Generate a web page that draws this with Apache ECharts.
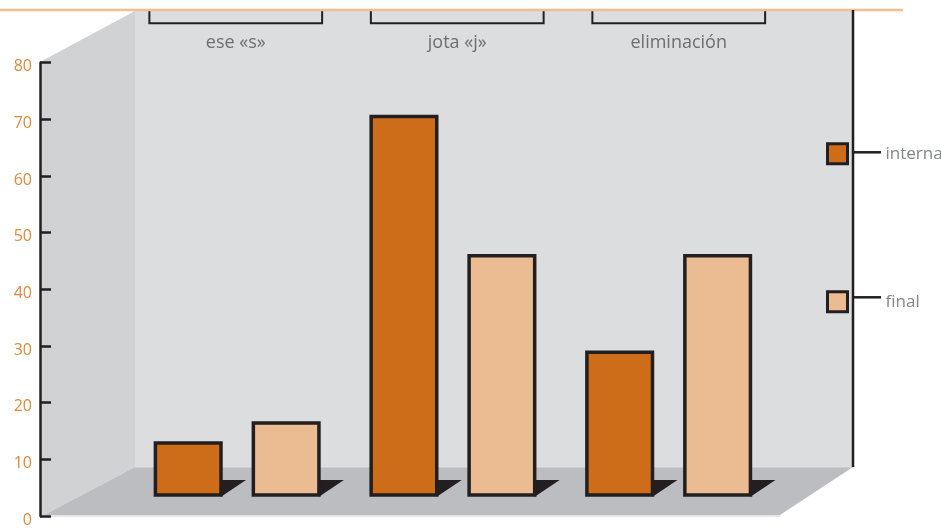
<!DOCTYPE html>
<html>
<head>
<meta charset="utf-8">
<script src="https://cdn.jsdelivr.net/npm/echarts@6/dist/echarts.min.js"></script>
<style>
html,body{margin:0;padding:0;background:#ffffff;}
#chart{width:941px;height:528px;}
</style>
</head>
<body>
<div id="chart"></div>
<script>
// ---- data ----
var categories = ['ese «s»', 'jota «j»', 'eliminación'];
var seriesNames = ['interna', 'final'];
var internaValues = [13, 70.5, 29];
var finalValues = [16.5, 46, 46];
var yTicks = [0, 10, 20, 30, 40, 50, 60, 70, 80];

// ---- style ----
var C_INTERNA = '#cd6d1a';
var C_FINAL = '#ebbb91';
var C_DARK = '#231f20';
var DEPTH = 21.7;      // 3D depth offset of the bar floor (px)

var chart = echarts.init(document.getElementById('chart'), null, {renderer: 'canvas'});

function barRenderer(sign, color) {
  return function (params, api) {
    var i = api.value(0), v = api.value(1);
    var top = api.coord([i, v]);
    var base = api.coord([i, 0]);
    var band = api.size([1, 0])[0];
    var cx = top[0] + sign * band * 0.227;
    var w = band * 0.304;
    var y0 = base[1] - DEPTH;
    var y1 = top[1];
    var xr = cx + w / 2;
    return {
      type: 'group',
      children: [
        {type: 'polygon', shape: {points: [[xr, y0 - 15], [xr + 25, y0 - 15], [xr, y0 + 1.75]]},
         style: {fill: C_DARK}},
        {type: 'rect', shape: {x: cx - w / 2, y: y1, width: w, height: y0 - y1},
         style: {fill: color, stroke: C_DARK, lineWidth: 3.5}}
      ]
    };
  };
}

function bracketRenderer(params, api) {
  var i = api.value(0);
  var b = api.coord([i, 0]);
  var t = api.coord([i, 1]);
  var band = api.size([1, 0])[0];
  var h = band * 0.39;
  return {
    type: 'polyline',
    shape: {points: [[b[0] - h, t[1]], [b[0] - h, b[1]], [b[0] + h, b[1]], [b[0] + h, t[1]]]},
    style: {stroke: C_DARK, lineWidth: 2, fill: null}
  };
}

var option = {
  backgroundColor: '#ffffff',
  animation: false,
  textStyle: {fontFamily: 'Open Sans'},
  grid: [
    {left: 40, top: 62.7, width: 813, height: 454},
    {left: 129.3, top: 62.7, width: 647.25, height: 454},
    {left: 125, top: 10, width: 664.5, height: 13.3}
  ],
  xAxis: [
    {gridIndex: 0, type: 'value', show: false},
    {gridIndex: 1, type: 'category', data: categories, show: false},
    {gridIndex: 2, type: 'category', data: categories, position: 'bottom',
     axisLine: {show: false}, axisTick: {show: false},
     axisLabel: {show: true, color: '#6d6e71', fontSize: 18, margin: 11, fontFamily: 'Open Sans'}}
  ],
  yAxis: [
    {gridIndex: 0, type: 'value', min: yTicks[0], max: yTicks[yTicks.length - 1], interval: 10, z: 5,
     axisLine: {show: true, lineStyle: {color: C_DARK, width: 2.5}},
     axisTick: {show: true, inside: true, length: 11, lineStyle: {color: C_DARK, width: 2.5}},
     splitLine: {show: false},
     axisLabel: {color: '#dc8a3c', fontSize: 16, margin: 8, verticalAlign: 'top', lineHeight: 8,
                 fontFamily: 'Open Sans'}},
    {gridIndex: 1, type: 'value', min: 0, max: 80, show: false},
    {gridIndex: 2, type: 'value', min: 0, max: 1, show: false}
  ],
  legend: {
    data: seriesNames,
    orient: 'vertical',
    left: 826, top: 142.3, padding: 0,
    itemWidth: 20, itemHeight: 20, itemGap: 125,
    icon: 'rect',
    itemStyle: {borderColor: C_DARK, borderWidth: 3},
    textStyle: {color: '#85878a', fontSize: 17, fontFamily: 'Open Sans', padding: [0, 0, 0, 33]},
    selectedMode: false
  },
  graphic: [
    {type: 'rect', z: -10, shape: {x: 135, y: 10, width: 718, height: 457}, style: {fill: '#dcdddf'}},
    {type: 'polygon', z: -10, shape: {points: [[40, 62], [135, 11], [135, 467], [40, 517]]}, style: {fill: '#d1d2d4'}},
    {type: 'polygon', z: -9, shape: {points: [[40, 517], [135, 467], [853, 467], [780, 515], [40, 515]]}, style: {fill: '#bcbdc0'}},
    {type: 'rect', z: -9, shape: {x: 40, y: 515, width: 740, height: 2}, style: {fill: '#e4e5e6'}},
    {type: 'line', z: -8, shape: {x1: 135, y1: 467.5, x2: 853, y2: 467.5}, style: {stroke: '#cdced0', lineWidth: 1}},
    {type: 'line', z: 10, shape: {x1: 0, y1: 10, x2: 903, y2: 10}, style: {stroke: '#f4bd90', lineWidth: 2.5}},
    {type: 'line', z: 10, shape: {x1: 853, y1: 10, x2: 853, y2: 467}, style: {stroke: C_DARK, lineWidth: 2.5}},
    {type: 'line', z: 10, shape: {x1: 853, y1: 152.3, x2: 881, y2: 152.3}, style: {stroke: C_DARK, lineWidth: 2.5}},
    {type: 'line', z: 10, shape: {x1: 853, y1: 297.3, x2: 881, y2: 297.3}, style: {stroke: C_DARK, lineWidth: 2.5}}
  ],
  series: [
    {name: 'interna', type: 'custom', xAxisIndex: 1, yAxisIndex: 1, z: 3,
     itemStyle: {color: C_INTERNA},
     renderItem: barRenderer(-1, C_INTERNA),
     data: internaValues.map(function (v, i) { return [i, v]; })},
    {name: 'final', type: 'custom', xAxisIndex: 1, yAxisIndex: 1, z: 3,
     itemStyle: {color: C_FINAL},
     renderItem: barRenderer(1, C_FINAL),
     data: finalValues.map(function (v, i) { return [i, v]; })},
    {name: 'brackets', type: 'custom', xAxisIndex: 2, yAxisIndex: 2, z: 4, silent: true,
     renderItem: bracketRenderer,
     data: categories.map(function (c, i) { return [i, 0]; })}
  ]
};
chart.setOption(option);
</script>
</body>
</html>
